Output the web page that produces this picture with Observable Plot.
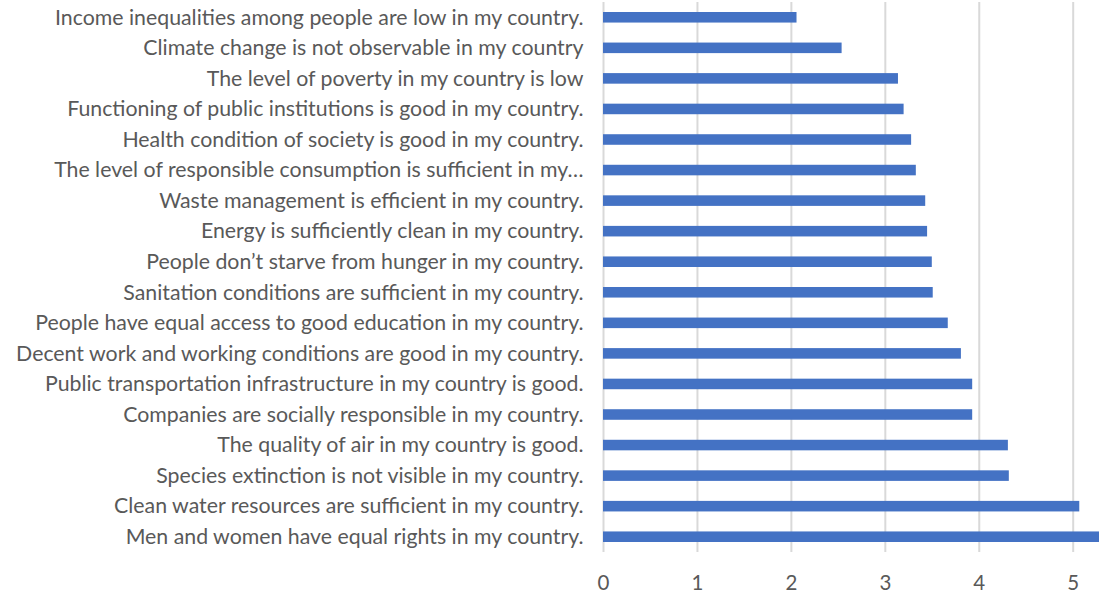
<!DOCTYPE html>
<html>
<head>
<meta charset="utf-8">
<script src="https://cdn.jsdelivr.net/npm/d3@7"></script>
<script src="https://cdn.jsdelivr.net/npm/@observablehq/plot@0.6"></script>
<style>
  html, body { margin: 0; padding: 0; background: #fff; }
  #chart svg { display: block; }
</style>
</head>
<body>
<div id="chart"></div>
<script>
// Statements, top to bottom as shown
const statements = [
  "Income inequalities among people are low in my country.",
  "Climate change is not observable in my country",
  "The level of poverty in my country is low",
  "Functioning of public institutions is good in my country.",
  "Health condition of society is good in my country.",
  "The level of responsible consumption is sufficient in my…",
  "Waste management is efficient in my country.",
  "Energy is sufficiently clean in my country.",
  "People don’t starve from hunger in my country.",
  "Sanitation conditions are sufficient in my country.",
  "People have equal access to good education in my country.",
  "Decent work and working conditions are good in my country.",
  "Public transportation infrastructure in my country is good.",
  "Companies are socially responsible in my country.",
  "The quality of air in my country is good.",
  "Species extinction is not visible in my country.",
  "Clean water resources are sufficient in my country.",
  "Men and women have equal rights in my country."
];
const scores = [
  2.06, 2.54, 3.14, 3.20, 3.28, 3.33, 3.43, 3.45, 3.50,
  3.51, 3.67, 3.81, 3.93, 3.93, 4.31, 4.32, 5.07, 5.28
];
const xTicks = [0, 1, 2, 3, 4, 5];

const data = statements.map((s, i) => ({statement: s, score: scores[i]}));

const chart = Plot.plot({
  width: 1099,
  height: 595,
  marginLeft: 603,
  marginRight: 0,
  marginTop: 2,
  marginBottom: 43,
  style: {fontFamily: "Lato, sans-serif", fontSize: "21px", color: "#595959", background: "#fff"},
  x: {domain: [0, 5.28]},
  y: {domain: statements, padding: 0, round: false},
  marks: [
    Plot.gridX(xTicks, {stroke: "#d9d9d9", strokeOpacity: 1, strokeWidth: 2}),
    Plot.barX(data, {x: "score", y: "statement", fill: "#4472c4", insetTop: 10, insetBottom: 10}),
    Plot.axisX(xTicks, {tickSize: 0, tickPadding: 23, label: null, fill: "#595959", fontSize: 20.5}),
    Plot.axisY({tickSize: 0, tickPadding: 20, label: null, fill: "#595959", fontSize: 21.3})
  ]
});
document.getElementById("chart").appendChild(chart);
</script>
</body>
</html>
